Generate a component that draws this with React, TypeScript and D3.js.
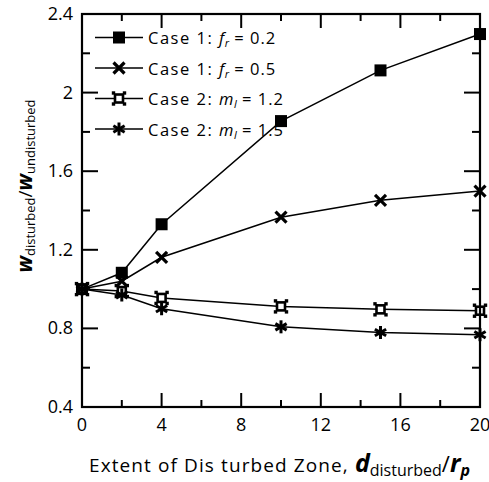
import React from "react";
import * as d3 from "d3";

const xValues = [0, 2, 4, 10, 15, 20];
const seriesFr02 = [1.0, 1.083, 1.33, 1.855, 2.113, 2.298];
const seriesFr05 = [1.0, 1.04, 1.162, 1.366, 1.452, 1.499];
const seriesMi12 = [1.0, 0.99, 0.955, 0.912, 0.897, 0.89];
const seriesMi15 = [1.0, 0.97, 0.9, 0.808, 0.779, 0.768];
const xTicks = [0, 4, 8, 12, 16, 20];
const yTicks = [0.4, 0.8, 1.2, 1.6, 2, 2.4];
const legendNames = ["Case 1: ", "Case 1: ", "Case 2: ", "Case 2: "];
const legendVars = ["f", "f", "m", "m"];
const legendSubs = ["r", "r", "l", "l"];
const legendVals = [" = 0.2", " = 0.5", " = 1.2", " = 1.5"];

const W = 489, H = 482;
const L = 82, R = 480, T = 14, B = 407;
const FONT = "'Open Sans', 'Noto Sans', sans-serif";

function Marker({ kind, x, y }: { kind: number; x: number; y: number }) {
  if (kind === 0) {
    return <rect x={x - 6} y={y - 6} width={12} height={12} fill="#000" />;
  }
  if (kind === 1) {
    const s = 5.5;
    return (
      <g stroke="#000" strokeWidth={3.2} strokeLinecap="butt">
        <line x1={x - s} y1={y - s} x2={x + s} y2={y + s} />
        <line x1={x - s} y1={y + s} x2={x + s} y2={y - s} />
      </g>
    );
  }
  if (kind === 2) {
    const s = 4;
    return (
      <g>
        <rect x={x - s} y={y - s} width={2 * s} height={2 * s} fill="#fff" stroke="#000" strokeWidth={2.6} />
        {[[-1, -1], [1, -1], [-1, 1], [1, 1]].map(([a, b], i) => (
          <rect key={i} x={x + a * 5.5 - 1.7} y={y + b * 5.5 - 1.7} width={3.4} height={3.4} fill="#000" />
        ))}
      </g>
    );
  }
  const s = 6.5;
  return (
    <g stroke="#000" strokeWidth={3} strokeLinecap="butt">
      {[0, 60, 120].map((a) => {
        const r = (a * Math.PI) / 180 + Math.PI / 2;
        return (
          <line key={a} x1={x - s * Math.cos(r)} y1={y - s * Math.sin(r)} x2={x + s * Math.cos(r)} y2={y + s * Math.sin(r)} />
        );
      })}
    </g>
  );
}

export default function App() {
  const x = d3.scaleLinear().domain([0, 20]).range([L, R]);
  const y = d3.scaleLinear().domain([0.4, 2.4]).range([B, T]);
  const series = [seriesFr02, seriesFr05, seriesMi12, seriesMi15];
  const line = d3
    .line<number>()
    .x((_, i) => x(xValues[i]))
    .y((d) => y(d));

  const xMinor = d3.range(0, 20.001, 2);
  const yMinor = d3.range(0.4, 2.4001, 0.2);

  return (
    <svg width={W} height={H} style={{ position: "absolute", left: 0, top: 0 }} fontFamily={FONT}>
      <rect width={W} height={H} fill="#fff" />
      {series.map((s, k) => (
        <path key={k} d={line(s) || ""} fill="none" stroke="#000" strokeWidth={1.5} />
      ))}
      {series.map((s, k) =>
        s.map((v, i) => <Marker key={k + "-" + i} kind={k} x={x(xValues[i])} y={y(v)} />)
      )}
      <rect x={L} y={T} width={R - L} height={B - T} fill="none" stroke="#000" strokeWidth={2.2} />
      {xMinor.map((t) => {
        const major = Math.round(t) % 4 === 0;
        const len = major ? 14 : 7;
        return (
          <g key={"xt" + t} stroke="#000" strokeWidth={2}>
            <line x1={x(t)} x2={x(t)} y1={B} y2={B - len} />
            <line x1={x(t)} x2={x(t)} y1={T} y2={T + len} />
          </g>
        );
      })}
      {yMinor.map((t, i) => {
        const major = i % 2 === 0;
        const len = major ? 16 : 8;
        return (
          <g key={"yt" + i} stroke="#000" strokeWidth={2}>
            <line x1={L} x2={L + len} y1={y(t)} y2={y(t)} />
            <line x1={R} x2={R - len} y1={y(t)} y2={y(t)} />
          </g>
        );
      })}
      {xTicks.map((t) => (
        <text key={"xl" + t} x={x(t)} y={B + 24} textAnchor="middle" fontSize={18}>
          {t}
        </text>
      ))}
      {yTicks.map((t) => (
        <text key={"yl" + t} x={L - 9} y={y(t) + 6} textAnchor="end" fontSize={18}>
          {d3.format("~g")(t)}
        </text>
      ))}
      {legendNames.map((n, i) => {
        const ly = 37.5 + i * 30.5;
        return (
          <g key={"lg" + i}>
            <line x1={95} x2={143} y1={ly} y2={ly} stroke="#000" strokeWidth={1.5} />
            <Marker kind={i} x={119} y={ly} />
            <text x={148} y={ly + 6.5} fontSize={16.5} letterSpacing={1.5}>
              {n}
              <tspan fontStyle="italic" letterSpacing={0.5}>{legendVars[i]}</tspan>
              <tspan fontStyle="italic" fontSize={11} dy={3} letterSpacing={0}>{legendSubs[i]}</tspan>
              <tspan dy={-3} letterSpacing={1}>{legendVals[i]}</tspan>
            </text>
          </g>
        );
      })}
      <text x={89} y={472} fontSize={19} letterSpacing={1.1}>
        Extent of Dis turbed Zone,{" "}
        <tspan fontWeight="bold" fontStyle="italic" fontSize={25} letterSpacing={0}>d</tspan>
        <tspan fontSize={16} dy={4} letterSpacing={0}>disturbed</tspan>
        <tspan dy={-4} fontSize={22} letterSpacing={0}>/</tspan>
        <tspan fontWeight="bold" fontStyle="italic" fontSize={25} letterSpacing={0}>r</tspan>
        <tspan fontWeight="bold" fontStyle="italic" fontSize={16} dy={4} letterSpacing={0}>p</tspan>
      </text>
      <text transform="translate(32,186) rotate(-90)" textAnchor="middle" fontSize={21}>
        <tspan fontWeight="bold" fontStyle="italic">w</tspan>
        <tspan fontSize={13} dy={3}>disturbed</tspan>
        <tspan dy={-3} fontSize={19}>/</tspan>
        <tspan fontWeight="bold" fontStyle="italic">w</tspan>
        <tspan fontSize={13} dy={3}>undisturbed</tspan>
      </text>
    </svg>
  );
}
